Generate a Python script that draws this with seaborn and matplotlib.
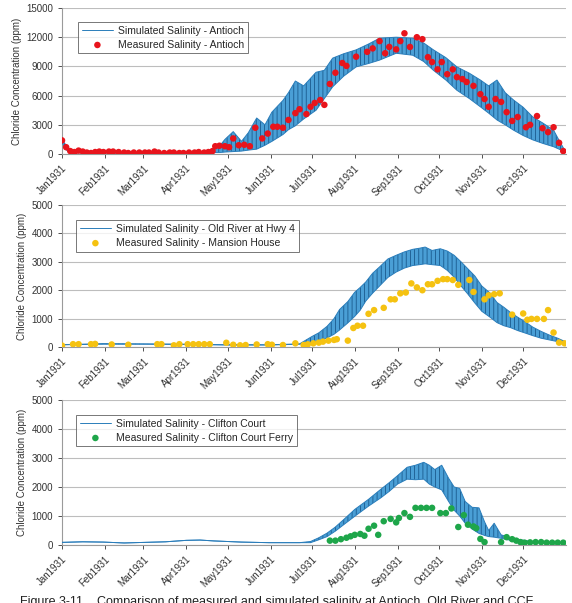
import numpy as np
import pandas as pd
import seaborn as sns
import matplotlib.pyplot as plt
import matplotlib.dates as mdates

sns.set_theme(style="white")
plt.rcParams['font.family'] = ['Liberation Sans', 'DejaVu Sans']
plt.rcParams['hatch.linewidth'] = 0.6

start = pd.Timestamp("1931-01-01")

# simulated salinity envelopes (day of year, upper, lower), ppm
sim_a_day = [0, 2, 5, 10, 15, 20, 25, 30, 40, 50, 60, 70, 80, 90, 100, 105, 110, 114, 118, 124,
             130, 135, 141, 147, 152, 160, 164, 169, 175, 184, 190, 196, 204, 213, 222, 230, 242, 254, 262, 269,
             278, 286, 295, 303, 309, 315, 321, 327, 334, 341, 348, 356, 360, 364]
sim_a_up = [1400, 1100, 300, 250, 400, 250, 200, 250, 200, 150, 150, 150, 150, 150, 200, 300, 600, 800, 1500, 2300,
            1300, 2200, 3700, 3000, 4300, 5500, 6300, 7500, 7000, 8400, 8600, 9850, 10300, 10700, 11300, 11900, 12000, 11900, 11400, 10700,
            9900, 8950, 8300, 7600, 7000, 7600, 6300, 5550, 4800, 3800, 3200, 2450, 1400, 400]
sim_a_lo = [1200, 600, 150, 100, 150, 100, 100, 100, 80, 50, 50, 50, 50, 50, 80, 100, 150, 150, 200, 250,
            300, 400, 500, 900, 1300, 2000, 2500, 2900, 3600, 4500, 5700, 6900, 8000, 8950, 9300, 9650, 10350, 10150, 9500, 8600,
            7600, 6550, 5700, 4850, 4200, 3500, 3000, 2450, 1900, 1450, 1100, 750, 500, 250]

sim_o_day = [0, 30, 60, 90, 120, 150, 172, 181, 186, 192, 197, 201, 207, 212, 216, 220, 225, 230, 236, 242,
             248, 254, 259, 263, 268, 274, 279, 284, 289, 294, 299, 304, 310, 315, 320, 325, 330, 335, 341, 347,
             353, 359, 364]
sim_o_up = [80, 120, 110, 100, 80, 80, 110, 370, 500, 730, 1000, 1320, 1600, 1930, 2100, 2290, 2600, 2820, 3100, 3230,
            3350, 3440, 3480, 3520, 3400, 3460, 3380, 3230, 3000, 2750, 2500, 2150, 1900, 1570, 1400, 1210, 1050, 900, 700, 550,
            420, 310, 200]
sim_o_lo = [80, 100, 100, 90, 70, 70, 100, 140, 200, 320, 450, 600, 850, 1080, 1300, 1620, 1900, 2150, 2450, 2640,
            2780, 2870, 2900, 2930, 2900, 2870, 2700, 2460, 2150, 1860, 1550, 1260, 1050, 860, 750, 680, 580, 500, 400, 310,
            250, 190, 150]

sim_c_day = [0, 15, 30, 45, 60, 75, 90, 100, 110, 130, 150, 172, 180, 186, 192, 198, 204, 212, 222, 231,
             237, 243, 250, 256, 262, 266, 270, 275, 280, 284, 288, 292, 297, 302, 306, 309, 313, 318, 325, 332,
             340, 350, 364]
sim_c_up = [90, 110, 100, 70, 90, 110, 160, 170, 140, 100, 80, 80, 120, 250, 410, 620, 875, 1225, 1575, 1925,
            2150, 2390, 2680, 2750, 2850, 2750, 2600, 2750, 2300, 2000, 1950, 1500, 1300, 1280, 800, 500, 750, 350, 250, 180,
            120, 100, 90]
sim_c_lo = [90, 110, 100, 70, 90, 110, 160, 170, 140, 100, 80, 80, 80, 180, 290, 480, 700, 990, 1340, 1630,
            1850, 2100, 2270, 2250, 2270, 2100, 2000, 1900, 1500, 1200, 1000, 750, 550, 400, 330, 290, 270, 230, 160, 120,
            90, 80, 80]

# measured salinity (day of year, ppm)
meas_a_day = [0, 3, 6, 9, 12, 15, 18, 21, 24, 27, 30, 34, 37, 41, 45, 48, 52, 56, 60, 63,
              67, 70, 74, 78, 81, 85, 88, 92, 96, 99, 103, 106, 109, 111, 114, 118, 121, 124, 128, 132,
              136, 140, 145, 149, 153, 156, 160, 164, 169, 172, 177, 180, 183, 187, 190, 194, 198, 203, 206, 213,
              221, 225, 230, 234, 237, 242, 245, 248, 252, 257, 261, 265, 268, 272, 275, 279, 283, 286, 290, 293,
              298, 303, 306, 309, 314, 318, 322, 326, 330, 336, 339, 344, 348, 352, 356, 360, 363]
meas_a_val = [1400, 700, 300, 200, 350, 250, 150, 100, 200, 250, 200, 250, 250, 200, 150, 100, 150, 150, 150, 150,
              250, 150, 100, 150, 150, 100, 100, 150, 150, 200, 150, 200, 300, 800, 850, 800, 700, 1600, 900, 950,
              800, 2700, 1600, 2100, 2800, 2800, 2700, 3500, 4200, 4600, 4100, 4850, 5250, 5550, 5050, 7200, 8350, 9350, 9050, 10000,
              10500, 10850, 11600, 10350, 11000, 10750, 11600, 12400, 11000, 12000, 11800, 9950, 9450, 8700, 9450, 8200, 8700, 7900, 7700, 7400,
              7000, 6150, 5650, 4850, 5650, 5350, 4300, 3400, 3800, 2750, 3000, 3900, 2650, 2250, 2750, 1150, 300]

meas_m_day = [0, 8, 12, 21, 24, 36, 48, 69, 72, 81, 85, 91, 95, 99, 103, 107, 119, 124, 129, 133,
              141, 149, 152, 160, 169, 175, 178, 182, 186, 189, 193, 197, 199, 207, 211, 214, 218, 222, 226, 233,
              238, 241, 245, 249, 253, 257, 261, 265, 268, 272, 276, 279, 283, 287, 295, 298, 306, 309, 313, 317,
              326, 334, 337, 340, 344, 349, 352, 356, 360, 364]
meas_m_val = [50, 100, 100, 100, 110, 90, 80, 100, 100, 60, 100, 100, 100, 100, 100, 100, 150, 80, 60, 70,
              90, 100, 80, 70, 130, 70, 95, 130, 155, 190, 225, 250, 275, 225, 670, 750, 750, 1170, 1300, 1380,
              1680, 1680, 1890, 1920, 2240, 2100, 2000, 2210, 2210, 2330, 2390, 2390, 2360, 2190, 2360, 1940, 1680, 1820, 1860, 1890,
              1140, 1180, 960, 990, 990, 990, 1300, 510, 155, 130]

meas_c_day = [194, 198, 202, 206, 209, 212, 216, 219, 222, 226, 229, 233, 238, 242, 244, 248, 252, 256, 260, 264,
              268, 274, 278, 282, 287, 291, 294, 298, 300, 303, 306, 318, 322, 326, 329, 332, 335, 339, 343, 347,
              351, 355, 359, 363]
meas_c_val = [150, 150, 200, 250, 300, 350, 380, 320, 560, 665, 350, 820, 900, 780, 930, 1100, 970, 1280, 1280, 1280,
              1280, 1100, 1100, 1260, 620, 1030, 700, 640, 580, 210, 100, 100, 270, 200, 150, 100, 80, 90, 100, 100,
              80, 80, 80, 80]

panels = [
    (sim_a_day, sim_a_up, sim_a_lo, meas_a_day, meas_a_val, "#e8141c",
     "Simulated Salinity - Antioch", "Measured Salinity - Antioch", 15000, 3000),
    (sim_o_day, sim_o_up, sim_o_lo, meas_m_day, meas_m_val, "#f5c211",
     "Simulated Salinity - Old River at Hwy 4", "Measured Salinity - Mansion House", 5000, 1000),
    (sim_c_day, sim_c_up, sim_c_lo, meas_c_day, meas_c_val, "#1ea64a",
     "Simulated Salinity - Clifton Court", "Measured Salinity - Clifton Court Ferry", 5000, 1000),
]

fig = plt.figure(figsize=(5.72, 6.03), dpi=100)
rects = [[0.1084, 0.7446, 0.8811, 0.2421],
         [0.1084, 0.4245, 0.8811, 0.2355],
         [0.1084, 0.0962, 0.8811, 0.2405]]
leg_anchor = [(0.032, 0.905), (0.028, 0.894), (0.028, 0.897)]

band_col = "#4a9fd6"
line_col = "#2a7dba"
month_ticks = pd.date_range("1931-01-01", periods=12, freq="MS")

for i, (sd, su, sl, md, mv, mcol, lab_s, lab_m, ymax, ystep) in enumerate(panels):
    ax = fig.add_axes(rects[i])
    sim = pd.DataFrame({"date": start + pd.to_timedelta(sd, unit="D"), "up": su, "lo": sl})
    meas = pd.DataFrame({"date": start + pd.to_timedelta(md, unit="D"), "val": mv})

    # tidal band: light blue fill with dark vertical stripes
    ax.fill_between(sim["date"], sim["lo"], sim["up"], facecolor=band_col,
                    edgecolor="#1a5a8d", hatch="||||", linewidth=0, zorder=2)
    sns.lineplot(data=sim, x="date", y="up", ax=ax, color=line_col, lw=0.7, label=lab_s, zorder=3)
    sns.lineplot(data=sim, x="date", y="lo", ax=ax, color=line_col, lw=0.7, label="_nolegend_", zorder=3)
    sns.scatterplot(data=meas, x="date", y="val", ax=ax, color=mcol, s=22, edgecolor="none",
                    label=lab_m, zorder=4)

    ax.set_xlim(start, pd.Timestamp("1932-01-01"))
    ax.set_ylim(0, ymax)
    ax.set_yticks(np.arange(0, ymax + 1, ystep))
    ax.yaxis.grid(True, color="#bdbdbd", lw=0.8)
    ax.xaxis.grid(False)
    ax.set_axisbelow(True)
    for s in ["top", "right"]:
        ax.spines[s].set_visible(False)
    for s in ["left", "bottom"]:
        ax.spines[s].set_color("#9a9a9a")
        ax.spines[s].set_linewidth(0.8)

    ax.set_xticks(month_ticks)
    ax.xaxis.set_major_formatter(mdates.DateFormatter("%b%Y"))
    ax.tick_params(axis="both", labelsize=7, colors="#333333", length=3, width=0.6,
                   direction="out", bottom=True, left=True)
    plt.setp(ax.get_xticklabels(), rotation=45, ha="right", rotation_mode="anchor")

    ax.set_xlabel("")
    ax.set_ylabel("Chloride Concentration (ppm)", fontsize=7, color="#333333", labelpad=3)

    leg = ax.legend(loc="upper left", bbox_to_anchor=leg_anchor[i], borderaxespad=0,
                    fontsize=7.5, frameon=True, fancybox=False, handlelength=3.0,
                    borderpad=0.35, labelspacing=0.4, handletextpad=0.5)
    leg.get_frame().set_edgecolor("#555555")
    leg.get_frame().set_linewidth(0.7)

fig.text(0.035, -0.004, "Figure 3-11    Comparison of measured and simulated salinity at Antioch, Old River and CCF",
         fontsize=9, color="#222222", va="baseline", ha="left")

fig.savefig("out.png", dpi=100)
